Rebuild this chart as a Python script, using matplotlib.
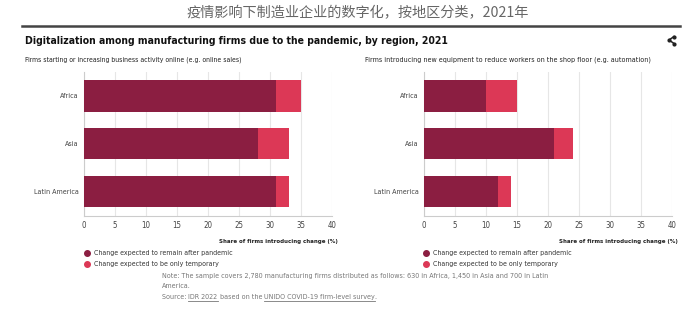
import matplotlib
matplotlib.use("Agg")
import matplotlib.pyplot as plt
from matplotlib.lines import Line2D
from matplotlib import font_manager as fm
import numpy as np

# pick a condensed face if one is installed
cond_path = fm.findfont(fm.FontProperties(family="DejaVu Sans", stretch="condensed"))
if "Condensed" in cond_path:
    FAM = ["DejaVu Sans"]
    STRETCH = "condensed"
else:
    FAM = ["Lato", "DejaVu Sans"]
    STRETCH = "normal"
plt.rcParams['font.family'] = FAM
plt.rcParams['font.stretch'] = STRETCH

regions = ["Africa", "Asia", "Latin America"]
online_remain = [31, 28, 31]
online_temp = [4, 5, 2]
equip_remain = [10, 21, 12]
equip_temp = [5, 3, 2]
xticks = [0, 5, 10, 15, 20, 25, 30, 35, 40]

cn_title = "疫情影响下制造业企业的数字化，按地区分类，2021年"
title = "Digitalization among manufacturing firms due to the pandemic, by region, 2021"
sub_left = "Firms starting or increasing business activity online (e.g. online sales)"
sub_right = "Firms introducing new equipment to reduce workers on the shop floor (e.g. automation)"
xlabel = "Share of firms introducing change (%)"
legend_labels = ["Change expected to remain after pandemic", "Change expected to be only temporary"]
note1 = "Note: The sample covers 2,780 manufacturing firms distributed as follows: 630 in Africa, 1,450 in Asia and 700 in Latin"
note2 = "America."

DARK = "#8b1e41"
LIGHT = "#dc3856"

W, H = 700, 335
fig = plt.figure(figsize=(7, 3.35), dpi=100)
fig.patch.set_facecolor("white")
fig.canvas.draw()
renderer = fig.canvas.get_renderer()


def fx(px):
    return px / W


def fy(py):
    return 1 - py / H


def fit(t, target_px, boost=1.0):
    w = t.get_window_extent(renderer=renderer).width
    t.set_fontsize(t.get_fontsize() * target_px / w * boost)
    return t


fig.text(fx(358), fy(13), cn_title, ha="center", va="center", fontsize=10.2,
         color="#666666", family=["Noto Sans CJK SC", "DejaVu Sans"], stretch="normal")
fig.add_artist(Line2D([fx(22), fx(680)], [fy(26), fy(26)], color="#444444", lw=1.8))
fit(fig.text(fx(25), fy(41), title, ha="left", va="center", fontsize=10,
             fontweight="bold", color="#111111"), 387, 1.08)
# share icon
pts = [(fx(674), fy(36.5)), (fx(669), fy(40)), (fx(674), fy(43.5))]
fig.add_artist(Line2D([p[0] for p in pts], [p[1] for p in pts], color="#222222", lw=1.1))
for p in pts:
    fig.add_artist(Line2D([p[0]], [p[1]], marker="o", ms=2.0, color="#222222"))

fit(fig.text(fx(25), fy(60), sub_left, ha="left", va="center", fontsize=6, color="#222222"), 207, 1.05)
fit(fig.text(fx(365), fy(60), sub_right, ha="left", va="center", fontsize=6, color="#222222"), 270, 1.05)

y = np.arange(len(regions))
ax_h = (215.7 - 72) / H
ax_b = fy(215.7)
axL = fig.add_axes([fx(84), ax_b, fx(332) - fx(84), ax_h])
axR = fig.add_axes([fx(424), ax_b, fx(672) - fx(424), ax_h])

# size for category labels so that "Latin America" is ~43 px wide
probe = fig.text(0, 0, "Latin America", fontsize=7)
fit(probe, 43, 1.05)
cat_fs = probe.get_fontsize()
probe.remove()

for ax, rem, tmp, xl_right in [(axL, online_remain, online_temp, 338), (axR, equip_remain, equip_temp, 678)]:
    ax.barh(y, rem, height=0.65, color=DARK, zorder=3)
    ax.barh(y, tmp, left=rem, height=0.65, color=LIGHT, zorder=3)
    ax.set_xlim(0, 40)
    ax.set_ylim(2.5, -0.5)
    ax.set_xticks(xticks)
    ax.set_xticklabels([str(t) for t in xticks])
    ax.set_yticks(y)
    ax.set_yticklabels(regions)
    ax.grid(axis="x", color="#e6e6e6", lw=0.8, zorder=0)
    ax.set_axisbelow(True)
    for s in ["top", "right"]:
        ax.spines[s].set_visible(False)
    for s in ["left", "bottom"]:
        ax.spines[s].set_color("#cccccc")
        ax.spines[s].set_linewidth(0.8)
    ax.tick_params(axis="both", length=0, labelsize=cat_fs, colors="#444444")
    ax.tick_params(axis="x", pad=4, labelsize=cat_fs * 1.1)
    ax.tick_params(axis="y", pad=3.8)
    fit(fig.text(fx(xl_right), fy(241), xlabel, ha="right", va="center", fontsize=6.8,
                 fontweight="bold", color="#222222"), 116, 1.05)

for lx in [86.5, 426]:
    for i, (lab, col) in enumerate(zip(legend_labels, [DARK, LIGHT])):
        yy = fy(253 + i * 10.7)
        fig.add_artist(Line2D([fx(lx)], [yy], marker="o", ms=4.0, color=col, lw=0))
        t = fig.text(fx(lx + 7), yy, lab, ha="left", va="center", fontsize=6.5, color="#333333")
        if i == 0:
            fit(t, 133, 1.05)
            leg_fs = t.get_fontsize()
        else:
            t.set_fontsize(leg_fs)

NOTE_C = "#777777"
tn = fit(fig.text(fx(162), fy(276), note1, ha="left", va="center", fontsize=6.5, color=NOTE_C), 368, 1.04)
nfs = tn.get_fontsize()
fig.text(fx(162), fy(286.5), note2, ha="left", va="center", fontsize=nfs, color=NOTE_C)

# Source line with underlined parts
parts = [("Source: ", False), ("IDR 2022", True), (" based on the ", False),
         ("UNIDO COVID-19 firm-level survey", True), (".", False)]
xcur = fx(162)
ysrc = fy(297)
for txt, ul in parts:
    t = fig.text(xcur, ysrc, txt, ha="left", va="center", fontsize=nfs, color=NOTE_C)
    bb = t.get_window_extent(renderer=renderer).transformed(fig.transFigure.inverted())
    if ul:
        fig.add_artist(Line2D([bb.x0, bb.x1], [bb.y0 - 0.002, bb.y0 - 0.002], color=NOTE_C, lw=0.6))
    xcur = bb.x1

fig.savefig("out.png", dpi=100, facecolor="white")
